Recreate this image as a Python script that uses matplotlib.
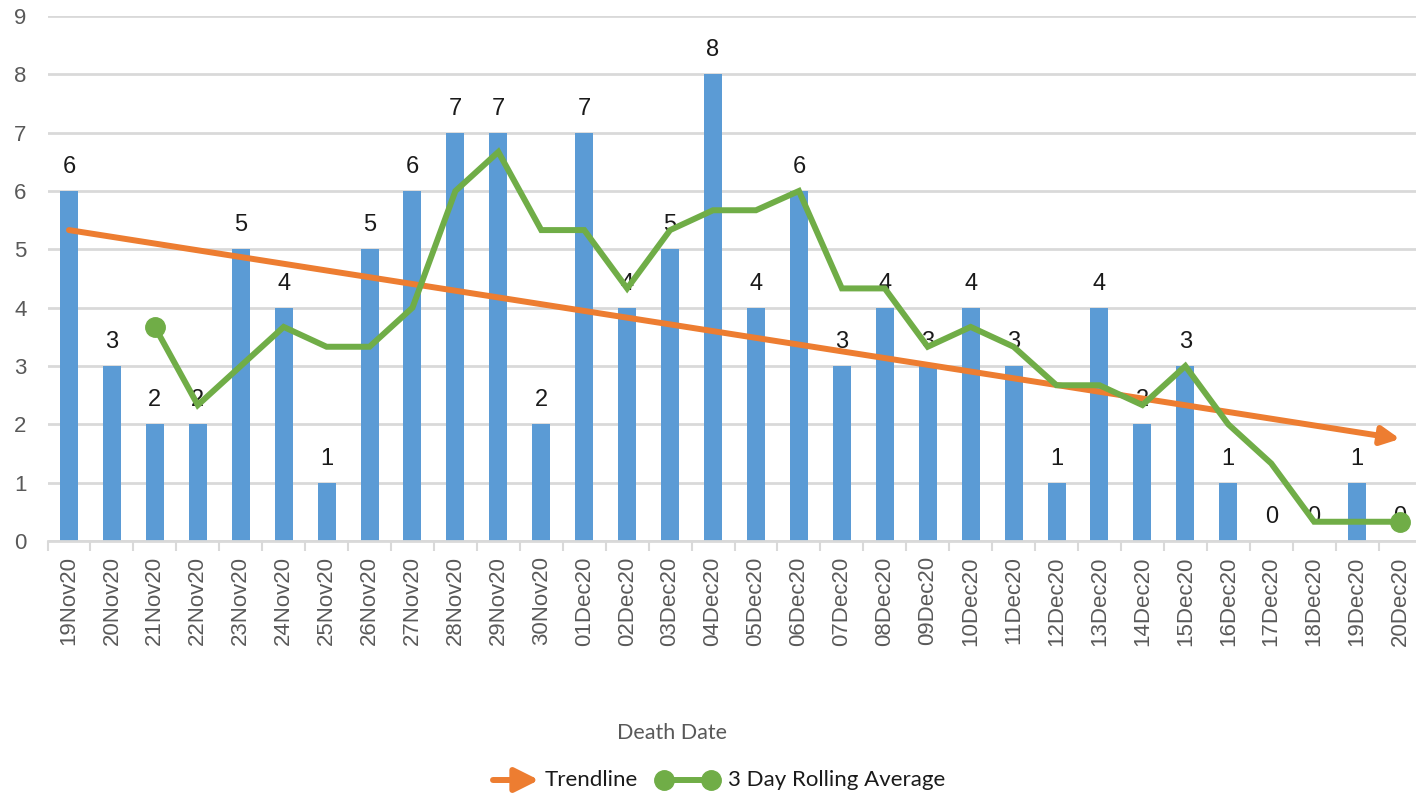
import matplotlib.pyplot as plt
from matplotlib.lines import Line2D
from matplotlib.patches import FancyArrowPatch

# Daily deaths, 19 Nov 2020 - 20 Dec 2020
dates = ['19Nov20', '20Nov20', '21Nov20', '22Nov20', '23Nov20', '24Nov20', '25Nov20',
         '26Nov20', '27Nov20', '28Nov20', '29Nov20', '30Nov20', '01Dec20', '02Dec20',
         '03Dec20', '04Dec20', '05Dec20', '06Dec20', '07Dec20', '08Dec20', '09Dec20',
         '10Dec20', '11Dec20', '12Dec20', '13Dec20', '14Dec20', '15Dec20', '16Dec20',
         '17Dec20', '18Dec20', '19Dec20', '20Dec20']
deaths = [6, 3, 2, 2, 5, 4, 1, 5, 6, 7, 7, 2, 7, 4, 5, 8, 4, 6, 3, 4, 3, 4, 3, 1, 4, 2, 3, 1, 0, 0, 1, 0]
# 3 day rolling average, starts on the third day
rolling_avg = [3.67, 2.33, 3.0, 3.67, 3.33, 3.33, 4.0, 6.0, 6.67, 5.33, 5.33, 4.33, 5.33,
               5.67, 5.67, 6.0, 4.33, 4.33, 3.33, 3.67, 3.33, 2.67, 2.67, 2.33, 3.0, 2.0,
               1.33, 0.33, 0.33, 0.33]
# linear trendline end values
trend_start = 5.33
trend_end = 1.75

blue = '#5B9BD5'
orange = '#ED7D31'
green = '#70AD47'
grey_txt = '#595959'
grid_col = '#D9D9D9'

fig = plt.figure(figsize=(14.16, 8.01), dpi=100)
ax = fig.add_axes([47.5 / 1416, 1 - 541 / 801, 1374 / 1416, 525 / 801])

x = list(range(len(dates)))
ax.bar(x, deaths, width=0.42, color=blue, zorder=2)

# data labels
for xi, v in zip(x, deaths):
    ax.annotate(str(v), (xi, v), xytext=(0, 13), textcoords='offset points',
                ha='center', va='baseline', fontsize=17, family='Liberation Sans',
                color='#1a1a1a', zorder=3)

# trendline with arrow head
ax.annotate('', xy=(x[-1], trend_end), xytext=(x[0], trend_start),
            arrowprops=dict(arrowstyle='-|>,head_length=1.1,head_width=0.55',
                            lw=4.3, color=orange, shrinkA=0, shrinkB=0),
            zorder=4)

# rolling average
ra_x = x[2:]
ax.plot(ra_x, rolling_avg, color=green, lw=4.3, zorder=5, solid_joinstyle='miter')
ax.plot([ra_x[0], ra_x[-1]], [rolling_avg[0], rolling_avg[-1]], 'o', color=green,
        markersize=14, zorder=6)

ax.set_xlim(-0.5, len(dates) - 0.5)
ax.set_ylim(0, 9)
ax.set_yticks(range(10))
ax.set_xticks([i - 0.5 for i in range(len(dates) + 1)], minor=False)
ax.set_xticklabels([])
ax.set_xticks(x, minor=True)
ax.set_xticklabels(dates, minor=True, rotation=90, fontsize=16,
                   family='Liberation Sans', color=grey_txt)
ax.tick_params(axis='x', which='major', length=7, width=1.5, color=grid_col)
ax.tick_params(axis='x', which='minor', length=0, pad=11)
ax.tick_params(axis='y', length=0, pad=15, labelsize=16, labelcolor=grey_txt)
for lab in ax.get_yticklabels():
    lab.set_family('Liberation Sans')

ax.grid(axis='y', color=grid_col, lw=2, zorder=0)
ax.set_axisbelow(True)
for s in ['left', 'right', 'top']:
    ax.spines[s].set_visible(False)
ax.spines['bottom'].set_color(grid_col)
ax.spines['bottom'].set_linewidth(2)

fig.text(672 / 1416, 1 - 733 / 801, 'Death Date', ha='center', va='center',
         fontsize=15.5, family='Lato', color=grey_txt)

# legend drawn by hand
ly = 1 - 780 / 801
fig.patches.append(FancyArrowPatch(
    (493 / 1416, ly), (539 / 1416, ly), transform=fig.transFigure,
    arrowstyle='-|>,head_length=1.2,head_width=0.6', mutation_scale=12,
    lw=4.3, color=orange, shrinkA=0, shrinkB=0))
fig.text(545 / 1416, ly, 'Trendline', ha='left', va='center', fontsize=16,
         family='Lato', color='#1a1a1a')
fig.add_artist(Line2D([664 / 1416, 711 / 1416], [ly, ly], transform=fig.transFigure,
                      color=green, lw=4.3))
fig.add_artist(Line2D([664 / 1416, 711 / 1416], [ly, ly], transform=fig.transFigure,
                      color=green, marker='o', markersize=14, lw=0))
fig.text(728 / 1416, ly, '3 Day Rolling Average', ha='left', va='center', fontsize=16,
         family='Lato', color='#1a1a1a')

fig.savefig('out.png', dpi=100)
